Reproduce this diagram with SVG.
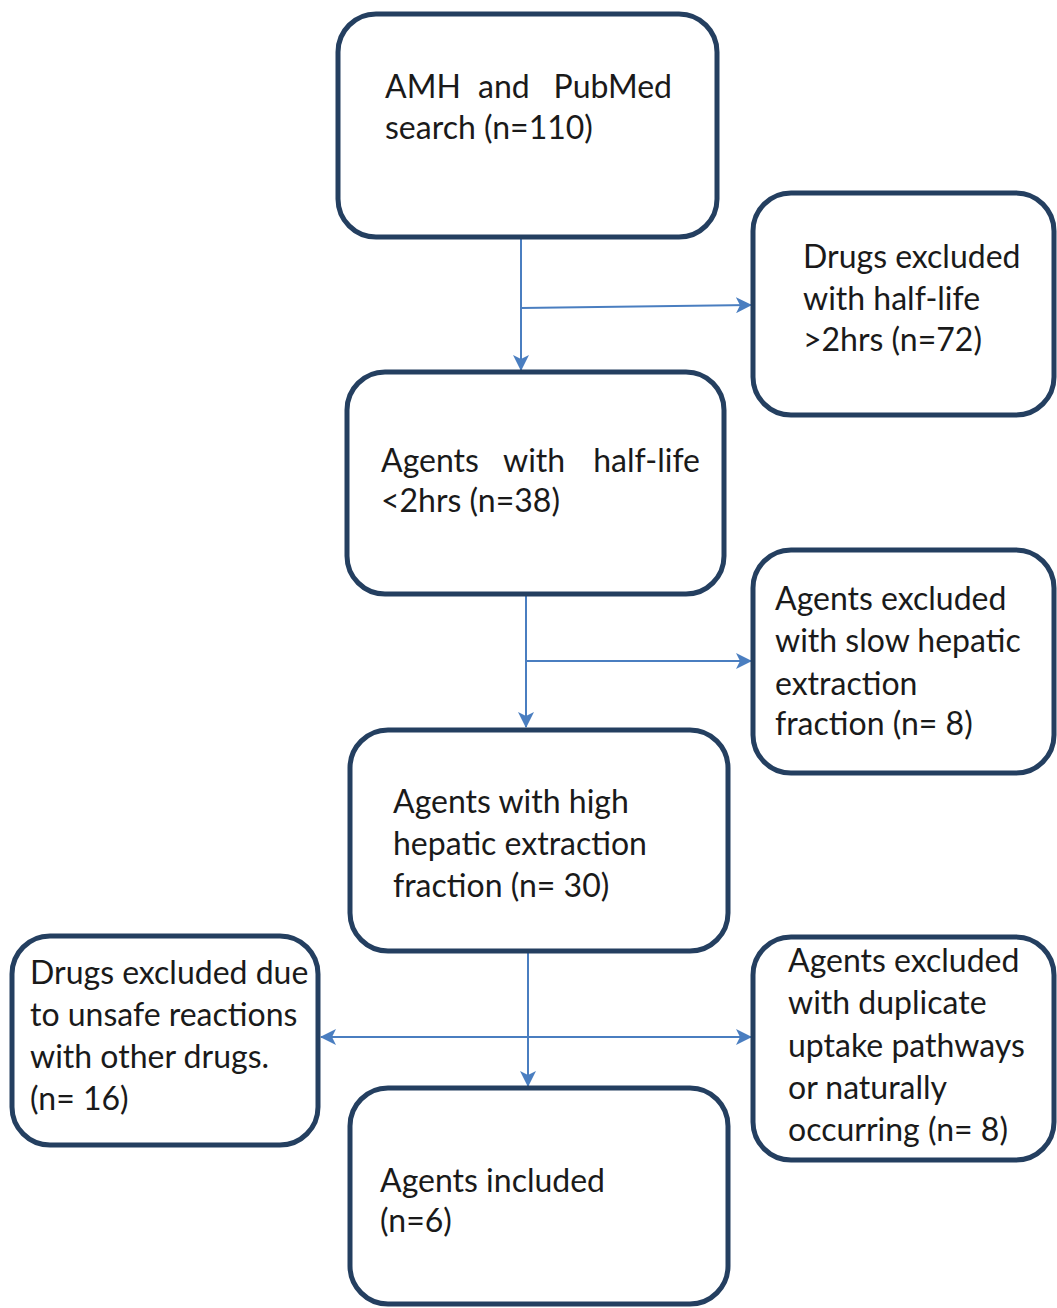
<svg xmlns="http://www.w3.org/2000/svg" width="1057" height="1308" viewBox="0 0 1057 1308">
<style>
.box{fill:#fff;stroke:#243F60;stroke-width:5}
.t{font-family:Lato,"Liberation Sans",sans-serif;font-size:32px;fill:#1a1a1a}
.c{fill:none;stroke:#4A7EC0;stroke-width:2}
</style>
<defs>
<marker id="ah" viewBox="0 0 16 16" refX="15" refY="8" markerWidth="16" markerHeight="16" markerUnits="userSpaceOnUse" orient="auto-start-reverse">
<path d="M0,0 L16,8 L0,16 L4,8 z" fill="#4A7EC0"/>
</marker>
</defs>
<rect width="1057" height="1308" fill="#fff"/>
<g id="connectors">
<line class="c" x1="521" y1="239" x2="521" y2="370" marker-end="url(#ah)"/>
<line class="c" x1="521" y1="308" x2="751" y2="305" marker-end="url(#ah)"/>
<line class="c" x1="526" y1="596" x2="526" y2="727" marker-end="url(#ah)"/>
<line class="c" x1="526" y1="661" x2="751" y2="661" marker-end="url(#ah)"/>
<line class="c" x1="528" y1="953" x2="528" y2="1086" marker-end="url(#ah)"/>
<line class="c" x1="321" y1="1037" x2="751" y2="1037" marker-start="url(#ah)" marker-end="url(#ah)"/>
</g>
<g id="n1">
<rect class="box" x="338" y="14" width="379" height="223" rx="38"/>
<text class="t" x="385" y="98">AMH</text>
<text class="t" x="478" y="98">and</text>
<text class="t" x="672" y="98" text-anchor="end">PubMed</text>
<text class="t" x="385" y="139">search (n=110)</text>
</g>
<g id="n2">
<rect class="box" x="753" y="193" width="301" height="222" rx="38"/>
<text class="t" x="803" y="268">Drugs excluded</text>
<text class="t" x="803" y="310">with half-life</text>
<text class="t" x="803" y="351">&gt;2hrs (n=72)</text>
</g>
<g id="n3">
<rect class="box" x="347" y="372" width="377" height="222" rx="38"/>
<text class="t" x="381" y="472">Agents</text>
<text class="t" x="503" y="472">with</text>
<text class="t" x="700" y="472" text-anchor="end">half-life</text>
<text class="t" x="381" y="512">&lt;2hrs (n=38)</text>
</g>
<g id="n4">
<rect class="box" x="753" y="550" width="301" height="223" rx="38"/>
<text class="t" x="775" y="610">Agents excluded</text>
<text class="t" x="775" y="652">with slow hepatic</text>
<text class="t" x="775" y="695">extraction</text>
<text class="t" x="775" y="735">fraction (n= 8)</text>
</g>
<g id="n5">
<rect class="box" x="350" y="730" width="378" height="221" rx="38"/>
<text class="t" x="393" y="813">Agents with high</text>
<text class="t" x="393" y="855">hepatic extraction</text>
<text class="t" x="393" y="897">fraction (n= 30)</text>
</g>
<g id="n6">
<rect class="box" x="12" y="936" width="306" height="209" rx="38"/>
<text class="t" x="30" y="984">Drugs excluded due</text>
<text class="t" x="30" y="1026">to unsafe reactions</text>
<text class="t" x="30" y="1068">with other drugs.</text>
<text class="t" x="30" y="1110">(n= 16)</text>
</g>
<g id="n7">
<rect class="box" x="753" y="937" width="301" height="223" rx="38"/>
<text class="t" x="788" y="972">Agents excluded</text>
<text class="t" x="788" y="1014">with duplicate</text>
<text class="t" x="788" y="1057">uptake pathways</text>
<text class="t" x="788" y="1099">or naturally</text>
<text class="t" x="788" y="1141">occurring (n= 8)</text>
</g>
<g id="n8">
<rect class="box" x="350" y="1088" width="378" height="216" rx="38"/>
<text class="t" x="380" y="1192">Agents included</text>
<text class="t" x="380" y="1232">(n=6)</text>
</g>
</svg>
